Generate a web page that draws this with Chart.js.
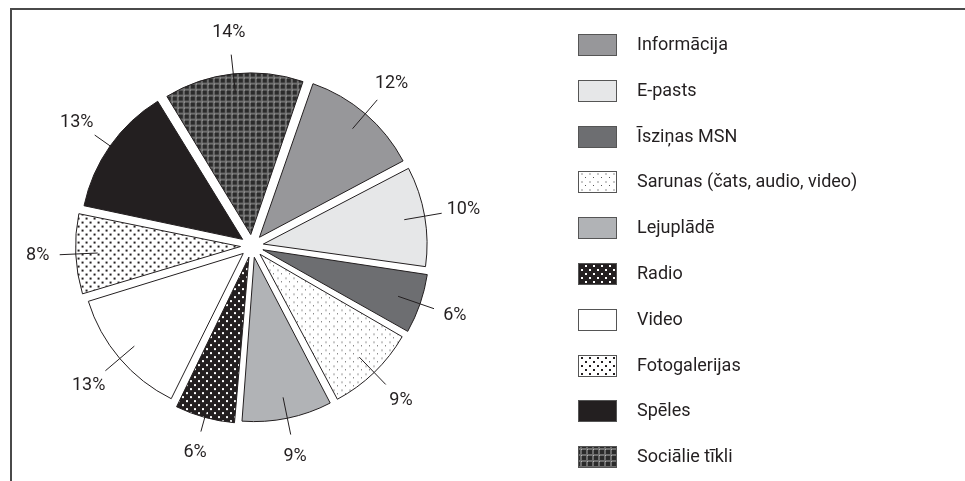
<!DOCTYPE html>
<html>
<head>
<meta charset="utf-8">
<script src="https://cdn.jsdelivr.net/npm/chart.js@4.4.1/dist/chart.umd.min.js"></script>
<style>
  html, body { margin: 0; padding: 0; background: #fff; }
  #wrap { position: relative; width: 965px; height: 481px; overflow: hidden; }
  #frame { position: absolute; left: 10px; top: 8px; width: 970px; height: 490px;
           border-top: 2px solid #4a4a4a; border-left: 2px solid #4a4a4a; }
  canvas { position: absolute; left: 0; top: 0; }
</style>
</head>
<body>
<div id="wrap">
  <div id="frame"></div>
  <canvas id="pieChart" width="965" height="481"></canvas>
</div>
<script>
const categories = [
  "Informācija",
  "E-pasts",
  "Īsziņas MSN",
  "Sarunas (čats, audio, video)",
  "Lejuplādē",
  "Radio",
  "Video",
  "Fotogalerijas",
  "Spēles",
  "Sociālie tīkli"
];
const shares = [12, 10, 6, 9, 9, 6, 13, 8, 13, 14];

const ink = "#231f20";
// chart.js v4 moves an arc by offset / 4
const sliceOffset = 46;
const shift = sliceOffset / 4;

// small tiles used as fill patterns
function tile(size, bg, paint) {
  const c = document.createElement("canvas");
  c.width = size;
  c.height = size;
  const t = c.getContext("2d");
  t.fillStyle = bg;
  t.fillRect(0, 0, size, size);
  paint(t);
  return c.getContext("2d").createPattern(c, "repeat");
}

const fills = [
  "#97979a",
  "#e6e7e8",
  "#6d6e71",
  tile(8, "#ffffff", t => {
    t.fillStyle = "#555";
    t.fillRect(1, 1, 1, 1);
    t.fillStyle = "#c8c8c8";
    t.fillRect(5, 5, 2, 2);
  }),
  "#b1b3b6",
  tile(8, ink, t => {
    t.fillStyle = "#fff";
    t.fillRect(1, 1, 2, 2);
    t.fillRect(5, 5, 2, 2);
  }),
  "#ffffff",
  tile(8, "#fff", t => {
    t.fillStyle = ink;
    t.fillRect(1, 1, 2, 2);
    t.fillRect(5, 5, 2, 2);
  }),
  ink,
  tile(6, "#6e6e6e", t => {
    t.fillStyle = "#2b2b2b";
    t.fillRect(0, 0, 4, 4);
    t.fillStyle = "#b8b8b8";
    t.fillRect(5, 5, 1, 1);
  })
];

const percentLabels = {
  id: "percentLabels",
  afterDatasetsDraw(chart) {
    const ctx = chart.ctx;
    const meta = chart.getDatasetMeta(0);
    ctx.save();
    ctx.strokeStyle = ink;
    ctx.fillStyle = ink;
    ctx.lineWidth = 1;
    ctx.font = "18px Roboto";
    ctx.textAlign = "center";
    ctx.textBaseline = "middle";
    meta.data.forEach((arc, i) => {
      const { x, y, startAngle, endAngle, outerRadius } =
        arc.getProps(["x", "y", "startAngle", "endAngle", "outerRadius"], true);
      const mid = (startAngle + endAngle) / 2;
      const r = outerRadius + shift;
      const cos = Math.cos(mid), sin = Math.sin(mid);
      ctx.beginPath();
      ctx.moveTo(x + cos * (r - 16), y + sin * (r - 16));
      ctx.lineTo(x + cos * (r + 22), y + sin * (r + 22));
      ctx.stroke();
      ctx.fillText(shares[i] + "%", x + cos * (r + 44), y + sin * (r + 44));
    });
    ctx.restore();
  }
};

const sideLegend = {
  id: "sideLegend",
  afterDraw(chart) {
    const ctx = chart.ctx;
    const ds = chart.data.datasets[0];
    ctx.save();
    ctx.font = "18px Roboto";
    ctx.textBaseline = "middle";
    ctx.lineWidth = 1;
    chart.data.labels.forEach((name, i) => {
      const yc = Math.round(45 + i * 45.8);
      ctx.fillStyle = ds.backgroundColor[i];
      ctx.fillRect(578, yc - 11, 39, 22);
      ctx.strokeStyle = "#555";
      ctx.strokeRect(578.5, yc - 10.5, 38, 21);
      ctx.fillStyle = ink;
      ctx.fillText(name, 637, yc);
    });
    ctx.restore();
  }
};

new Chart(document.getElementById("pieChart"), {
  type: "pie",
  data: {
    labels: categories,
    datasets: [{
      data: shares,
      backgroundColor: fills,
      borderColor: ink,
      borderWidth: 1,
      offset: sliceOffset
    }]
  },
  options: {
    responsive: false,
    animation: false,
    events: [],
    rotation: 19,
    radius: 159,
    layout: { padding: { left: 79, right: 540, top: 71, bottom: 60 } },
    plugins: {
      legend: { display: false },
      tooltip: { enabled: false }
    }
  },
  plugins: [percentLabels, sideLegend]
});
</script>
</body>
</html>
